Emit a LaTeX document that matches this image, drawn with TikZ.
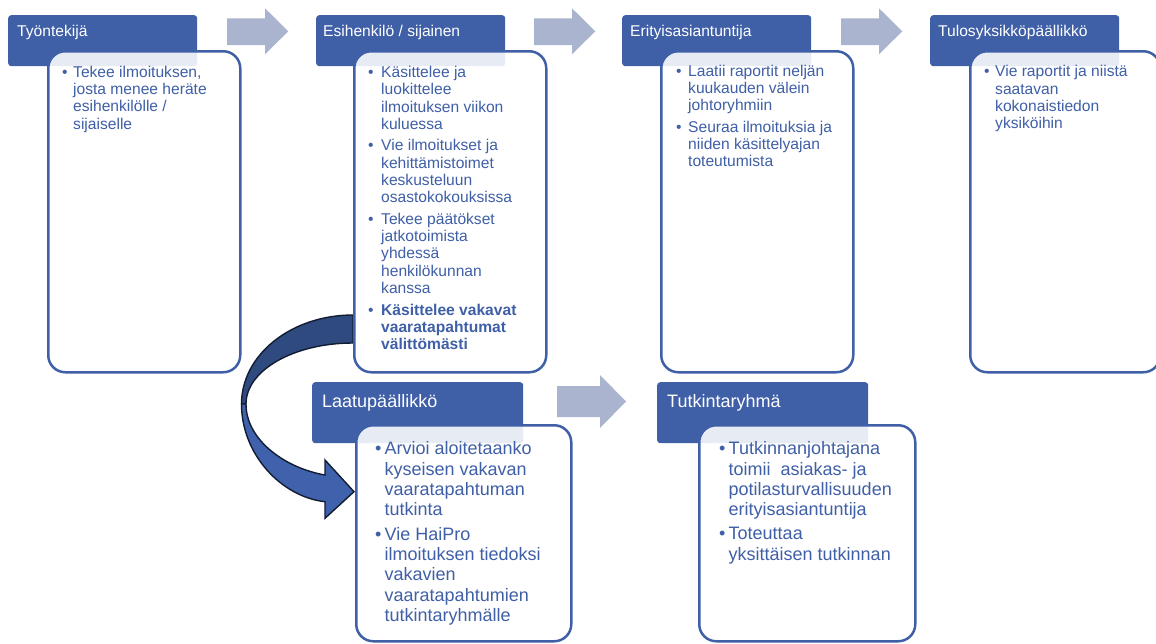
\documentclass[tikz,border=0pt]{standalone}
\usepackage{fontspec}
\setmainfont{Liberation Sans}
\usepackage{array}
\definecolor{hdrblue}{HTML}{3F5FA7}
\definecolor{txtblue}{HTML}{3F5FA7}
\definecolor{arrgray}{HTML}{AAB4CF}
\definecolor{darkband}{HTML}{2E4A7E}
\definecolor{lightband}{HTML}{4061AB}
\definecolor{outl}{HTML}{121C33}
\tikzset{
  hdr/.style={fill=hdrblue, draw=none, rounded corners=3pt, inner sep=0pt, anchor=north west},
  cbox/.style={draw=hdrblue, line width=2.5pt, fill=white, fill opacity=0.88, draw opacity=1, rounded corners=17pt, inner sep=0pt, anchor=north west},
  htxt/.style={text=white, inner sep=0pt, anchor=base west, font=\fontsize{15.6}{18}\selectfont},
  htxtb/.style={text=white, inner sep=0pt, anchor=base west, font=\fontsize{18}{21}\selectfont},
  btxt/.style={text=txtblue, inner sep=0pt, anchor=north west, font=\fontsize{15.6}{17.3}\selectfont},
  btxtb/.style={text=txtblue, inner sep=0pt, anchor=north west, font=\fontsize{18}{20.3}\selectfont},
  blockarrow/.style={fill=arrgray, draw=none},
  band/.style={draw=outl, line width=1.4pt, line join=miter}
}
\begin{document}
\begin{tikzpicture}[x=1pt,y=-1pt]
\useasboundingbox (0,0) rectangle (1156,643);
% headers
\node[hdr, minimum width=189pt, minimum height=51pt] (h1) at (8,15) {};
\node[hdr, minimum width=189pt, minimum height=51pt] (h2) at (316,15) {};
\node[hdr, minimum width=189pt, minimum height=51pt] (h3) at (622,15) {};
\node[hdr, minimum width=189pt, minimum height=51pt] (h4) at (930,15) {};
\node[hdr, minimum width=211pt, minimum height=61pt] (h5) at (312,382) {};
\node[hdr, minimum width=211pt, minimum height=61pt] (h6) at (657,382) {};
% block arrows
\foreach \dx in {0,307,614}{
  \fill[blockarrow] (227+\dx,18.3) -- (265+\dx,18.3) -- (265+\dx,8.3) -- (288.3+\dx,31.3) -- (265+\dx,54.3) -- (265+\dx,45) -- (227+\dx,45) -- cycle;
}
\fill[blockarrow] (557,386) -- (600,386) -- (600,375) -- (626,401.5) -- (600,428) -- (600,417) -- (557,417) -- cycle;
% curved arrow
\filldraw[band, fill=darkband] (353,315) .. controls (291.7,315) and (241.5,354.4) .. (241.5,404)
  -- (246,404) .. controls (246,370.3) and (293.9,343) .. (353,343) -- cycle;
\filldraw[band, fill=lightband] (241.5,404) .. controls (241.5,455) and (282,497) .. (325,501.7)
  -- (325,518.3) -- (354,491.7) -- (325,460) -- (325,475)
  .. controls (285,468) and (246,440) .. (246,404) -- cycle;
% content boxes
\node[cbox, minimum width=192pt, minimum height=321pt] (b1) at (47,50) {};
\node[cbox, minimum width=192pt, minimum height=321pt] (b2) at (353,50) {};
\node[cbox, minimum width=192pt, minimum height=321pt] (b3) at (660,50) {};
\node[cbox, minimum width=190pt, minimum height=321pt] (b4) at (969,50) {};
\node[cbox, minimum width=215pt, minimum height=216pt] (b5) at (355,424) {};
\node[cbox, minimum width=216pt, minimum height=216pt] (b6) at (698,424) {};
% header texts
\node[htxt] (ht1) at (17,36) {Työntekijä};
\node[htxt] (ht2) at (323,36) {Esihenkilö / sijainen};
\node[htxt] (ht3) at (630,36) {Erityisasiantuntija};
\node[htxt] (ht4) at (938,36) {Tulosyksikköpäällikkö};
\node[htxtb] (ht5) at (322,407) {Laatupäällikkö};
\node[htxtb] (ht6) at (667,407) {Tutkintaryhmä};
% body texts
\node[btxt] (t1) at (62,64.9) {\begin{tabular}{@{}p{11pt}@{}l@{}}
• & Tekee ilmoituksen,\\ & josta menee heräte\\ & esihenkilölle /\\ & sijaiselle
\end{tabular}};
\node[btxt] (t2) at (368,65.2) {\begin{tabular}{@{}p{13pt}@{}l@{}}
• & Käsittelee ja\\ & luokittelee\\ & ilmoituksen viikon\\ & kuluessa\\[4.2pt]
• & Vie ilmoitukset ja\\ & kehittämistoimet\\ & keskusteluun\\ & osastokokouksissa\\[4.2pt]
• & Tekee päätökset\\ & jatkotoimista\\ & yhdessä\\ & henkilökunnan\\ & kanssa\\[4.2pt]
• & \textbf{Käsittelee vakavat}\\ & \textbf{vaaratapahtumat}\\ & \textbf{välittömästi}
\end{tabular}};
\node[btxt] (t3) at (676,63.9) {\begin{tabular}{@{}p{12pt}@{}l@{}}
• & Laatii raportit neljän\\ & kuukauden välein\\ & johtoryhmiin\\[4.2pt]
• & Seuraa ilmoituksia ja\\ & niiden käsittelyajan\\ & toteutumista
\end{tabular}};
\node[btxt] (t4) at (984,64.4) {\begin{tabular}{@{}p{11pt}@{}l@{}}
• & Vie raportit ja niistä\\ & saatavan\\ & kokonaistiedon\\ & yksiköihin
\end{tabular}};
\node[btxtb] (t5) at (375,440.5) {\begin{tabular}{@{}p{9.5pt}@{}l@{}}
• & Arvioi aloitetaanko\\ & kyseisen vakavan\\ & vaaratapahtuman\\ & tutkinta\\[4pt]
• & Vie HaiPro\\ & ilmoituksen tiedoksi\\ & vakavien\\ & vaaratapahtumien\\ & tutkintaryhmälle
\end{tabular}};
\node[btxtb] (t6) at (719,440.3) {\begin{tabular}{@{}p{9.5pt}@{}l@{}}
• & Tutkinnanjohtajana\\ & toimii\ \ asiakas- ja\\ & potilasturvallisuuden\\ & erityisasiantuntija\\[4pt]
• & Toteuttaa\\ & yksittäisen tutkinnan
\end{tabular}};
\end{tikzpicture}
\end{document}
